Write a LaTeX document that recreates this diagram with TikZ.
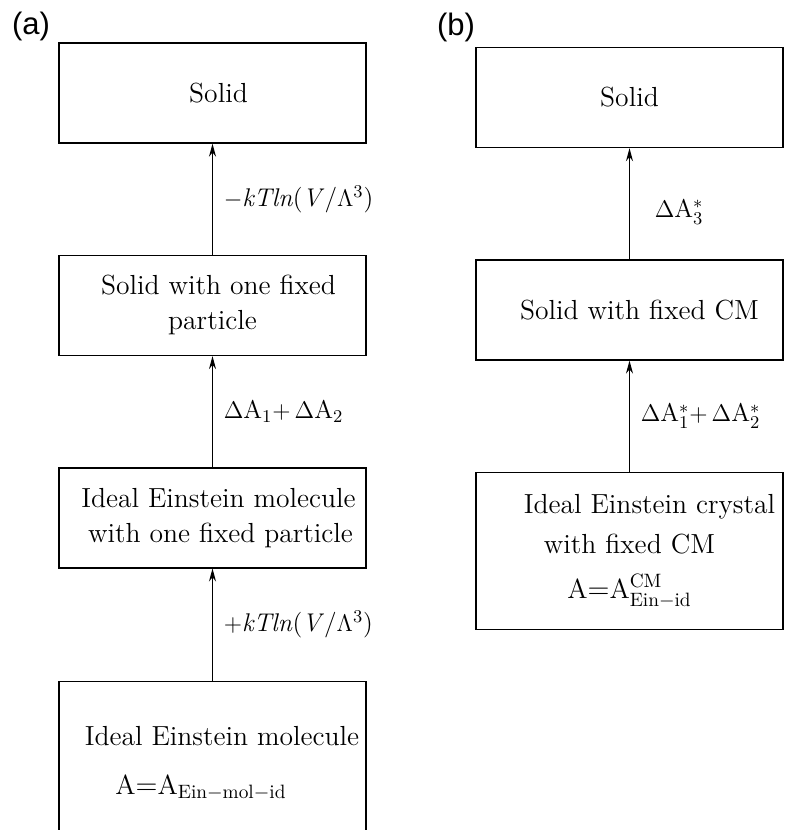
\documentclass[tikz,border=0pt]{standalone}
\usepackage{amsmath}
\usepackage{fontspec}
\newfontfamily\panelfont{Liberation Sans}
\usetikzlibrary{positioning, arrows.meta}
\tikzset{
    block/.style={
        draw, line width = 0.7pt,
        minimum width = 153.5pt,
        minimum height = 50pt,
        inner sep = 0pt,
        align = center,
        font = \fontsize{13.8}{17.5}\selectfont
    },
    panel/.style = {font = \panelfont\fontsize{15.5}{18}\selectfont},
    step label/.style = {right, xshift = 2pt, font = \fontsize{12.8}{15}\selectfont},
    line/.style = {line width = 0.6pt, -{Stealth[length=6.5pt, width=3.5pt]}}
}

\begin{document}
\begin{tikzpicture}[x=0.5pt, y=-0.5pt]

    \useasboundingbox (0,0) rectangle (785,830);
    \clip (0,0) rectangle (785,830);

    % Panel labels
    \node[panel] (labA) at (31,26) {(a)};
    \node[panel] (labB) at (456,27) {(b)};

    % Blocks (a)
    \node[block] (solidA) at (212.5,93) {\hspace*{6pt}Solid};
    \node[block, below = 55.5pt of solidA] (fixedA) {\hspace*{6pt}Solid with one fixed\\ particle};
    \node[block, below = 55.5pt of fixedA] (einFixA) {\hspace*{6pt}Ideal Einstein molecule\\ \hspace*{8pt}with one fixed particle};
    \node[block, below = 56pt of einFixA, minimum height = 82pt] (einA)
        {\hspace*{9.5pt}Ideal Einstein molecule\\[7pt]
         $\mathrm{A}{=}\mathrm{A}_{\mathrm{Ein{-}mol{-}id}}$\hspace*{11.5pt}};

    % Blocks (b)
    \node[block] (solidB) at (629.5,97.5) {Solid};
    \node[block, below = 55.5pt of solidB] (fixedB) {\hspace*{10pt}Solid with fixed CM};
    \node[block, below = 55.5pt of fixedB, minimum height = 78.5pt] (einB)
        {\hspace*{20pt}Ideal Einstein crystal\\[2.5pt]
         with fixed CM\\[5pt]
         $\mathrm{A}{=}\mathrm{A}^{\mathrm{CM}}_{\mathrm{Ein{-}id}}$};

    % Lines (a)
    \draw[line] (fixedA) -- (solidA) node[midway, step label] {$-$\textit{kTln}(\textit{V}/$\Lambda^3$)};
    \draw[line] (einFixA) -- (fixedA) node[midway, step label] {$\Delta\mathrm{A}_1{+}\,\Delta\mathrm{A}_2$};
    \draw[line] (einA) -- (einFixA) node[midway, step label] {$+$\textit{kTln}(\textit{V}/$\Lambda^3$)};

    % Lines (b)
    \draw[line] (fixedB) -- (solidB) node[midway, step label, xshift = 7pt, yshift = -4pt] {$\Delta\mathrm{A}^*_3$};
    \draw[line] (einB) -- (fixedB) node[midway, step label] {$\Delta\mathrm{A}^*_1{+}\,\Delta\mathrm{A}^*_2$};

\end{tikzpicture}
\end{document}
